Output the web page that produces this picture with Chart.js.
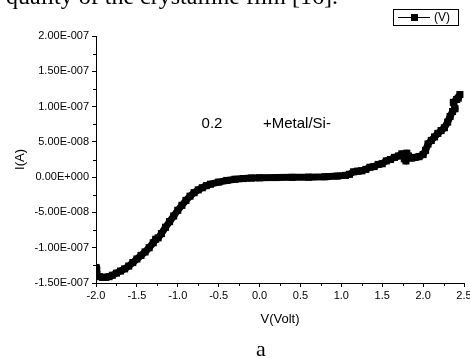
<!DOCTYPE html>
<html>
<head>
<meta charset="utf-8">
<script src="https://cdn.jsdelivr.net/npm/chart.js@4"></script>
<style>
  html, body { margin: 0; padding: 0; background: #fff; }
  #wrap { width: 470px; height: 358px; position: relative; }
</style>
</head>
<body>
<div id="wrap"><canvas id="graficoIV" width="470" height="358"></canvas></div>
<script>
const voltaje = [
  -2.00, -1.99, -1.96, -1.92, -1.88, -1.84, -1.80, -1.75, -1.70, -1.65,
  -1.60, -1.55, -1.50, -1.45, -1.40, -1.35, -1.30, -1.27, -1.24, -1.20,
  -1.15, -1.10, -1.05, -1.00, -0.95, -0.90, -0.85, -0.80, -0.75, -0.70,
  -0.65, -0.60, -0.50, -0.40, -0.30, -0.20, -0.10, 0.00, 0.20, 0.40,
  0.60, 0.80, 0.95, 1.05, 1.10, 1.15, 1.20, 1.25, 1.30, 1.35,
  1.40, 1.45, 1.50, 1.55, 1.60, 1.65, 1.70, 1.74, 1.77, 1.79,
  1.80, 1.82, 1.86, 1.90, 1.95, 2.00, 2.03, 2.06, 2.10, 2.14,
  2.18, 2.22, 2.26, 2.30, 2.33, 2.36, 2.39, 2.37, 2.41, 2.43, 2.45
];
const corriente = [
  -1.28e-7, -1.38e-7, -1.41e-7, -1.42e-7, -1.42e-7, -1.41e-7, -1.39e-7, -1.36e-7, -1.33e-7, -1.30e-7,
  -1.26e-7, -1.21e-7, -1.16e-7, -1.11e-7, -1.06e-7, -1.00e-7, -9.3e-8, -8.8e-8, -8.6e-8, -8.0e-8,
  -7.1e-8, -6.3e-8, -5.5e-8, -4.7e-8, -4.0e-8, -3.3e-8, -2.7e-8, -2.2e-8, -1.8e-8, -1.5e-8,
  -1.2e-8, -1.0e-8, -7e-9, -4.7e-9, -3e-9, -2e-9, -1.3e-9, -1e-9, -6e-10, -3e-10,
  0, 6e-10, 1.5e-9, 2.5e-9, 4e-9, 7.5e-9, 8.5e-9, 9e-9, 1.1e-8, 1.4e-8,
  1.5e-8, 1.8e-8, 1.9e-8, 2.3e-8, 2.5e-8, 2.8e-8, 3.0e-8, 3.3e-8, 2.6e-8, 2.3e-8,
  3.4e-8, 3.0e-8, 2.7e-8, 2.8e-8, 2.9e-8, 3.2e-8, 3.8e-8, 4.7e-8, 5.2e-8, 5.7e-8,
  6.2e-8, 6.6e-8, 7.0e-8, 7.8e-8, 8.6e-8, 9.3e-8, 9.7e-8, 1.06e-7, 1.10e-7, 1.12e-7, 1.17e-7
];
const ticksX = [-2.0, -1.5, -1.0, -0.5, 0.0, 0.5, 1.0, 1.5, 2.0, 2.5];
const ticksY = [-1.5e-7, -1.0e-7, -5.0e-8, 0, 5.0e-8, 1.0e-7, 1.5e-7, 2.0e-7];

const puntos = voltaje.map((v, i) => ({ x: v, y: corriente[i] }));
const fuente = 'Liberation Sans, Arial, sans-serif';

// Formato tipo Origin: 2.00E-007
function formatoCientifico(v) {
  if (Math.abs(v) < 1e-15) return '0.00E+000';
  const partes = v.toExponential(2).split('e');
  const exp = parseInt(partes[1], 10);
  const signo = exp < 0 ? '-' : '+';
  return partes[0] + 'E' + signo + String(Math.abs(exp)).padStart(3, '0');
}

// Marcas menores, leyenda y textos sueltos
const extras = {
  id: 'extras',
  afterDraw(chart) {
    const c = chart.ctx;
    const sx = chart.scales.x, sy = chart.scales.y;
    c.save();
    c.strokeStyle = '#000';
    c.lineWidth = 1;
    c.beginPath();
    for (let i = 0; i < ticksX.length - 1; i++) {
      const px = Math.round(sx.getPixelForValue((ticksX[i] + ticksX[i + 1]) / 2)) + 0.5;
      c.moveTo(px, sx.top); c.lineTo(px, sx.top + 3);
    }
    for (let i = 0; i < ticksY.length - 1; i++) {
      const py = Math.round(sy.getPixelForValue((ticksY[i] + ticksY[i + 1]) / 2)) + 0.5;
      c.moveTo(sy.right, py); c.lineTo(sy.right - 3, py);
    }
    c.stroke();

    // leyenda
    c.strokeRect(393.5, 9.5, 65, 16);
    c.beginPath();
    c.moveTo(398, 17.5); c.lineTo(430, 17.5);
    c.stroke();
    c.fillStyle = '#000';
    c.fillRect(411, 14, 7, 7);
    c.font = '12px ' + fuente;
    c.textBaseline = 'middle';
    c.textAlign = 'left';
    c.fillText('(V)', 434, 18);

    // anotaciones
    c.font = '15px ' + fuente;
    c.textAlign = 'center';
    c.fillText('0.2', 212, 124);
    c.textAlign = 'left';
    c.fillText('+Metal/Si-', 263, 124);

    // texto del documento
    c.font = '22px Liberation Serif, Times New Roman, serif';
    c.textAlign = 'center';
    c.textBaseline = 'alphabetic';
    c.fillText('a', 261, 356);
    c.font = '24px Liberation Serif, Times New Roman, serif';
    c.textAlign = 'right';
    c.fillText('quality of the crystalline film [16].', 338, 4);
    c.restore();
  }
};

new Chart(document.getElementById('graficoIV').getContext('2d'), {
  type: 'line',
  data: {
    datasets: [{
      label: '(V)',
      data: puntos,
      borderColor: '#000',
      backgroundColor: '#000',
      borderWidth: 7,
      borderJoinStyle: 'round',
      pointStyle: 'rect',
      pointRadius: 5,
      pointHoverRadius: 5,
      pointBorderWidth: 0,
      tension: 0
    }]
  },
  options: {
    responsive: false,
    animation: false,
    events: [],
    layout: { padding: { left: 13, right: 6, top: 36, bottom: 31 } },
    plugins: { legend: { display: false }, tooltip: { enabled: false } },
    scales: {
      x: {
        type: 'linear',
        min: -2.0,
        max: 2.5,
        afterBuildTicks: s => { s.ticks = ticksX.map(v => ({ value: v })); },
        afterFit: s => { s.height = 44; s.paddingLeft = 0; s.paddingRight = 0; },
        grid: { drawOnChartArea: false, tickLength: 4, color: '#000' },
        border: { color: '#000', width: 1 },
        ticks: {
          color: '#000', padding: 2, maxRotation: 0, autoSkip: false,
          font: { family: fuente, size: 11 },
          callback: v => v.toFixed(1)
        },
        title: {
          display: true, text: 'V(Volt)', color: '#000',
          padding: 0, font: { family: fuente, size: 13 }
        }
      },
      y: {
        min: -1.5e-7,
        max: 2.0e-7,
        afterBuildTicks: s => { s.ticks = ticksY.map(v => ({ value: v })); },
        afterFit: s => { s.width = 83; s.paddingTop = 0; s.paddingBottom = 0; },
        grid: { drawOnChartArea: false, tickLength: 4, color: '#000' },
        border: { color: '#000', width: 1 },
        ticks: {
          color: '#000', padding: 3, autoSkip: false,
          font: { family: fuente, size: 11 },
          callback: v => formatoCientifico(v)
        },
        title: {
          display: true, text: 'I(A)', color: '#000',
          padding: 0, font: { family: fuente, size: 13 }
        }
      }
    }
  },
  plugins: [extras]
});
</script>
</body>
</html>
